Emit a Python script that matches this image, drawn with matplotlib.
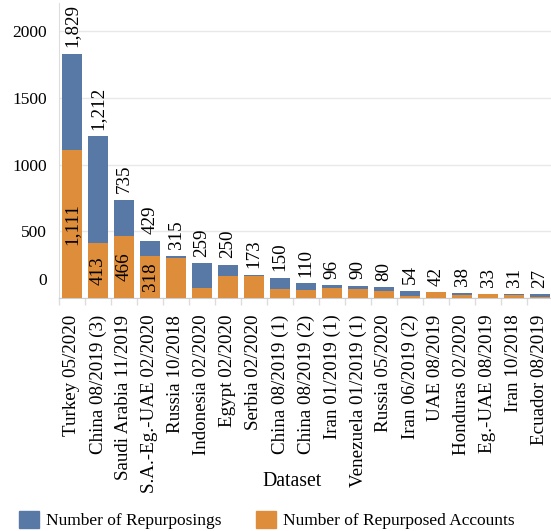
import matplotlib
matplotlib.use('Agg')
import matplotlib.pyplot as plt
from matplotlib.patches import Patch
import numpy as np

# Data
datasets = ['Turkey 05/2020', 'China 08/2019 (3)', 'Saudi Arabia 11/2019',
            'S.A.-Eg.-UAE 02/2020', 'Russia 10/2018', 'Indonesia 02/2020',
            'Egypt 02/2020', 'Serbia 02/2020', 'China 08/2019 (1)',
            'China 08/2019 (2)', 'Iran 01/2019 (1)', 'Venezuela 01/2019 (1)',
            'Russia 05/2020', 'Iran 06/2019 (2)', 'UAE 08/2019',
            'Honduras 02/2020', 'Eg.-UAE 08/2019', 'Iran 10/2018',
            'Ecuador 08/2019']
repurposings = [1829, 1212, 735, 429, 315, 259, 250, 173, 150, 110,
                96, 90, 80, 54, 42, 38, 33, 31, 27]
accounts = [1111, 413, 466, 318, 300, 75, 168, 163, 64, 62,
            78, 65, 54, 18, 42, 21, 31, 21, 11]
# only the first four bars carry an inner label
inner_labels = 4
yticks = [0, 500, 1000, 1500, 2000]

blue = '#5878a6'
orange = '#de8d3b'
grid_col = '#e8e8e8'

plt.rcParams['font.family'] = ['Liberation Serif', 'DejaVu Serif']
fs = 12.5
fs_big = 13.7

W, H = 551, 531
fig = plt.figure(figsize=(W / 100, H / 100), dpi=100)
ax = fig.add_axes([59 / W, (H - 298) / H, 494 / W, 295 / H])

x = np.arange(len(datasets))
ax.bar(x, repurposings, width=0.77, color=blue, zorder=2)
ax.bar(x, accounts, width=0.77, color=orange, zorder=3)

for i, v in enumerate(repurposings):
    ax.text(i, v + 50, f'{v:,}', rotation=90, ha='center', va='bottom',
            fontsize=fs_big, zorder=4)
for i in range(inner_labels):
    ax.text(i, accounts[i] / 2, f'{accounts[i]:,}', rotation=90,
            ha='center', va='center', fontsize=fs_big, zorder=4)

ax.set_xlim(-0.5, len(datasets) - 0.5)
ax.set_ylim(0, 2212)
ax.set_yticks(yticks)
# the zero label sits above the axis line, drawn separately below
ax.set_yticklabels([''] + [str(t) for t in yticks[1:]], fontsize=fs)
ax.annotate(str(yticks[0]), xy=(0, yticks[0]),
            xycoords=('axes fraction', 'data'), xytext=(-12, 17),
            textcoords='offset pixels', ha='right', va='center', fontsize=fs)
ax.tick_params(axis='y', length=0, pad=8.6)
ax.yaxis.grid(True, color=grid_col, linewidth=1, zorder=0)

ax.set_xticks(x)
ax.set_xticklabels(datasets, rotation=90, fontsize=fs_big)
ax.tick_params(axis='x', length=0, pad=12)
ax.set_xticks(np.arange(len(datasets) + 1) - 0.5, minor=True)
ax.tick_params(axis='x', which='minor', length=5, color='#dddddd', width=1)
fig.text(292 / W, 1 - 482 / H, 'Dataset', fontsize=fs_big + 0.5,
         ha='center', va='center',
         bbox=dict(facecolor='white', edgecolor='none', pad=1))

for s in ['top', 'right']:
    ax.spines[s].set_visible(False)
ax.spines['left'].set_color('#dddddd')
ax.spines['bottom'].set_color('#cccccc')

handles = [Patch(color=blue, label='Number of Repurposings'),
           Patch(color=orange, label='Number of Repurposed Accounts')]
fig.legend(handles=handles, loc='lower left', bbox_to_anchor=(3 / W, -14 / H),
           ncol=2, frameon=False, fontsize=fs, handlelength=1.15,
           handleheight=1.15, columnspacing=2.0, handletextpad=0.4)

plt.savefig('out.png', dpi=100)
